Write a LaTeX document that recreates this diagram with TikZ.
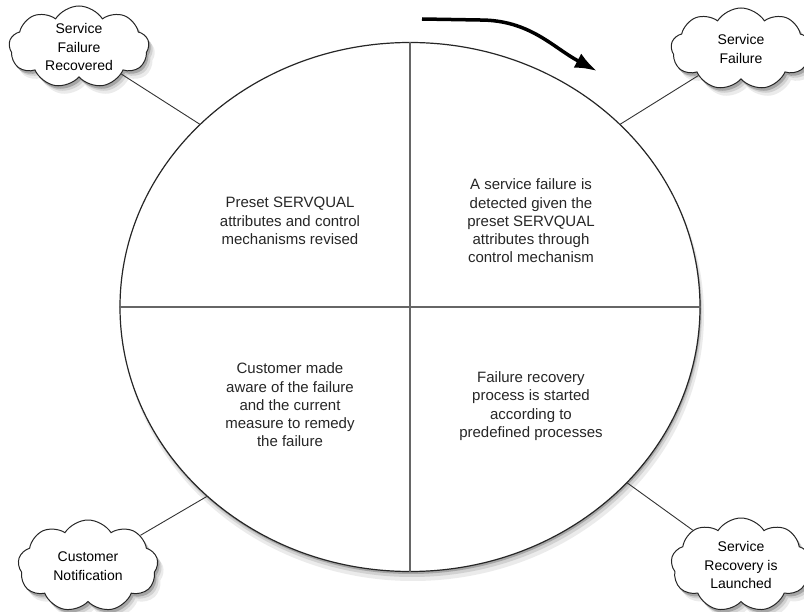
\documentclass[tikz,border=0pt]{standalone}
\usepackage{fontspec}
\setmainfont{Liberation Sans}
\usetikzlibrary{shapes.symbols, shapes.geometric, arrows.meta}

\begin{document}
\begin{tikzpicture}[x=1pt, y=-1pt,
  stage/.style={cloud, cloud puffs=9, cloud puff arc=115, cloud ignores aspect, draw=black!85, fill=white, line width=1pt,
    minimum width=140pt, minimum height=82pt, inner sep=0pt, align=center,
    font=\fontsize{14}{18.5}\selectfont},
  stageshade/.style={stage, draw=none, fill=black!#1},
  phase/.style={align=center, font=\fontsize{15}{18.3}\selectfont, text=black!85},
  link/.style={draw=black!80, line width=0.9pt}]

\useasboundingbox (0,0) rectangle (804,612);

%% SOMBRAS
\fill[black!8] (413,315) ellipse [x radius=291, y radius=266];
\fill[black!18] (412,312) ellipse [x radius=290, y radius=265];
\fill[black!35] (411,309) ellipse [x radius=290, y radius=265];
\foreach \x/\y/\h [count=\i] in {79/47/82, 741/49/82, 88/566/92, 741/565/94}{
  \node[stageshade=8, minimum height=\h pt] at (\x+6,\y+8) (shadeA\i) {};
  \node[stageshade=18, minimum height=\h pt] at (\x+4,\y+5) (shadeB\i) {};
  \node[stageshade=35, minimum height=\h pt] at (\x+2,\y+3) (shadeC\i) {};
}

%% RUEDA
\node[ellipse, draw=black!85, fill=white, line width=1.2pt, minimum width=580pt, minimum height=529pt,
  inner sep=0pt] at (410,307) (wheel) {};

% Cuadrantes
\draw[draw=black!60, line width=1.4pt] (wheel.north) -- (wheel.south);
\draw[draw=black!60, line width=1.4pt] (wheel.west) -- (wheel.east);

% Textos de los cuadrantes
\node[phase] at (290,221) (revised) {Preset SERVQUAL\\attributes and control\\mechanisms revised};
\node[phase] at (531,221) (detected) {A service failure is\\detected given the\\preset SERVQUAL\\attributes through\\control mechanism};
\node[phase] at (290,405) (aware) {Customer made\\aware of the failure\\and the current\\measure to remedy\\the failure};
\node[phase] at (531,406) (started) {Failure recovery\\process is started\\according to\\predefined processes};

%% NUBES
\node[stage] at (79,47) (recovered) {Service\\Failure\\Recovered};
\node[stage] at (741,49) (failure) {Service\\Failure};
\node[stage, minimum height=92pt] at (88,566) (notify) {Customer\\Notification};
\node[stage, minimum height=94pt] at (741,565) (launched) {Service\\Recovery is\\Launched};

% Conexiones
\draw[link] (recovered) -- (wheel.139);
\draw[link] (failure) -- (wheel.41);
\draw[link] (notify) -- (wheel.223);
\draw[link] (launched) -- (wheel.321);

%% FLECHA
\coordinate (turnstart) at (422,19);
\coordinate (turnend) at (597,71);
\draw[line width=3.5pt, -{Latex[length=22pt, width=16pt]}] (turnstart) -- ++(58,1) to[out=0, in=152] (turnend);

\end{tikzpicture}
\end{document}
